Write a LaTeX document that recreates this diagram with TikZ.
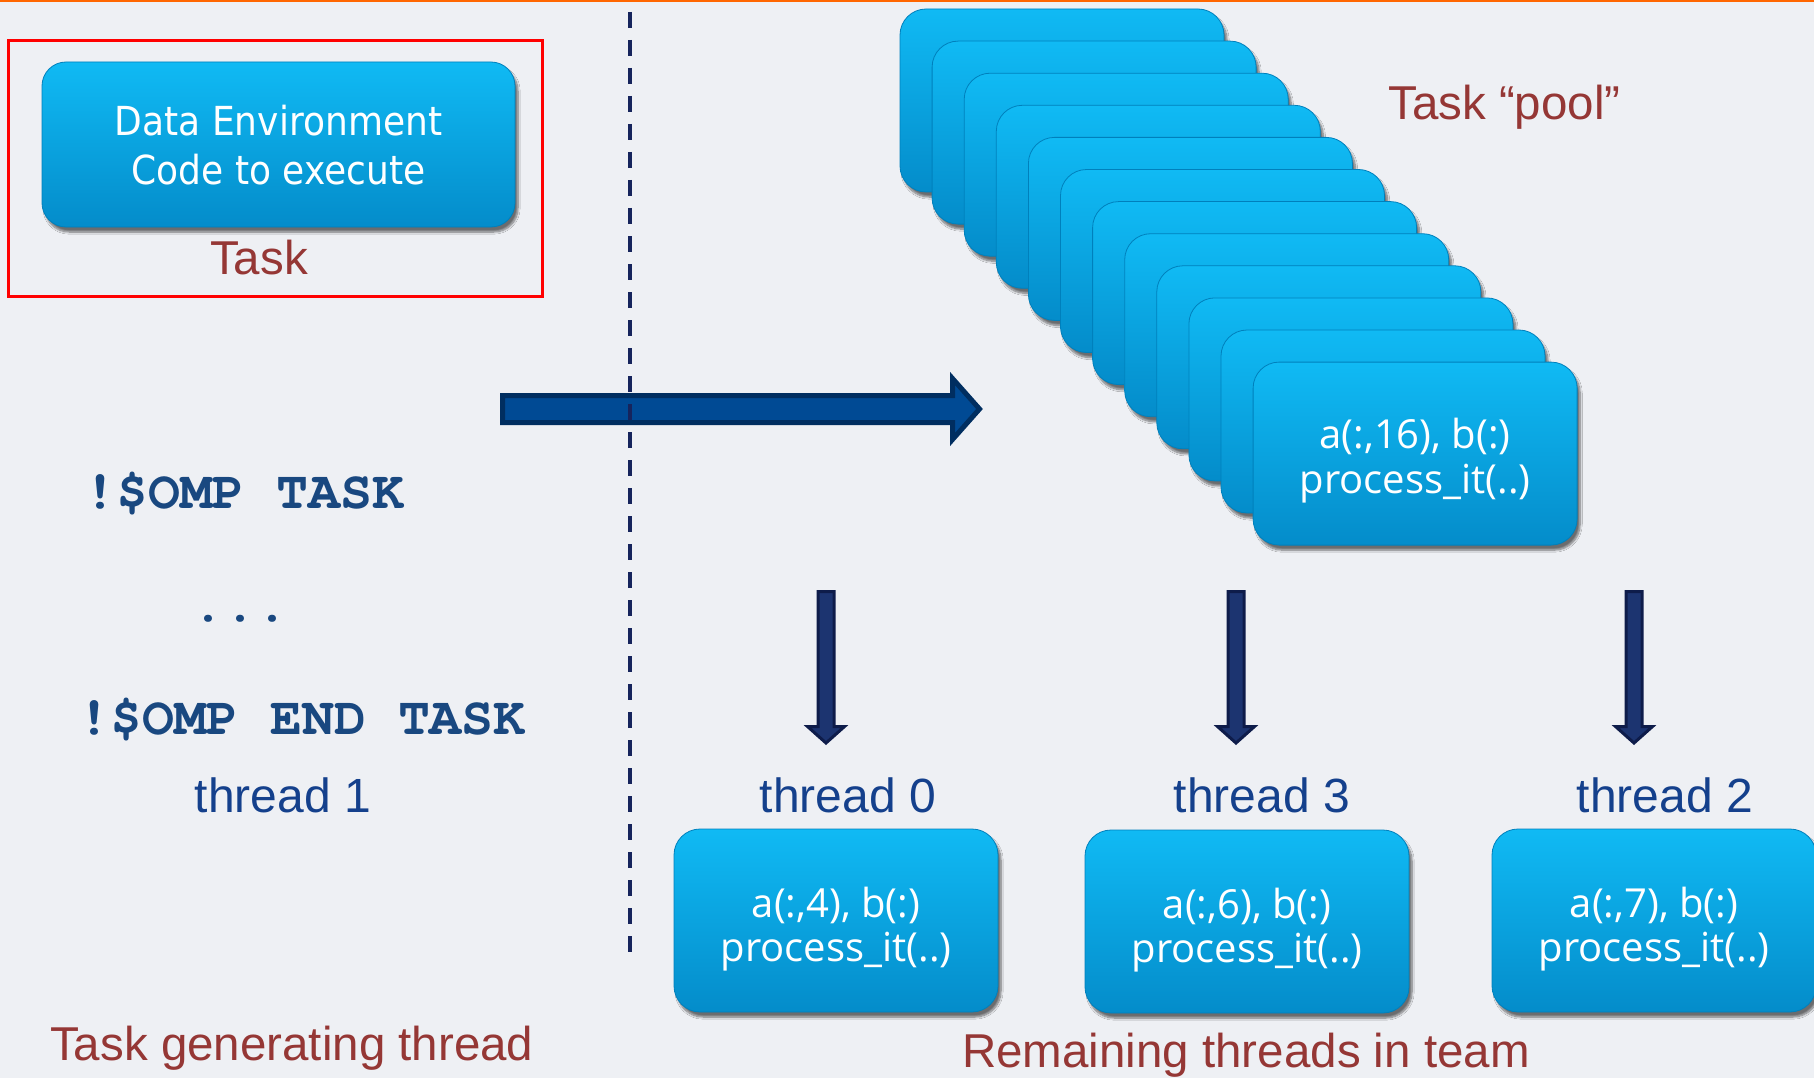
\documentclass[tikz,border=0pt]{standalone}
\usepackage{fontspec}
\setmainfont{Liberation Sans}
\newfontfamily\envfont[FakeStretch=0.9]{DejaVu Sans}
\newfontfamily\cellfont{Open Sans}
\newfontfamily\codefont{TeX Gyre Cursor}
\usetikzlibrary{shadows.blur}

\definecolor{bg}{RGB}{238,240,244}
\definecolor{orangeline}{RGB}{255,102,0}
\definecolor{redframe}{RGB}{255,0,0}
\definecolor{labelred}{RGB}{149,55,53}
\definecolor{threadblue}{RGB}{20,64,140}
\definecolor{codeblue}{RGB}{25,72,128}
\definecolor{celltop}{RGB}{16,186,244}
\definecolor{cellbot}{RGB}{4,140,202}
\definecolor{celledge}{RGB}{0,128,188}
\definecolor{bigfill}{RGB}{0,74,148}
\definecolor{bigedge}{RGB}{0,46,96}
\definecolor{downfill}{RGB}{28,52,112}
\definecolor{downedge}{RGB}{14,28,74}
\definecolor{dashnavy}{RGB}{22,36,92}

\begin{document}
\begin{tikzpicture}[x=1pt,y=-1pt,
  cell/.style={rounded corners=26pt, minimum width=324pt, minimum height=183pt,
    inner sep=0pt, top color=celltop, bottom color=cellbot, draw=celledge, line width=0.8pt,
    blur shadow={shadow xshift=3pt, shadow yshift=-5pt, shadow blur steps=8,
      shadow blur extra rounding=3pt, shadow opacity=55}},
  celltext/.style={font=\cellfont\fontsize{40}{43}\selectfont, text=white, inner sep=0pt, anchor=base},
  envtext/.style={font=\envfont\fontsize{40}{48}\selectfont, text=white, inner sep=0pt, anchor=base},
  redlabel/.style={font=\fontsize{47.5}{54}\selectfont, text=labelred, inner sep=0pt},
  threadlabel/.style={font=\fontsize{48}{54}\selectfont, text=threadblue, inner sep=0pt, anchor=base},
  codeline/.style={font=\codefont\bfseries\fontsize{53.3}{60}\selectfont, text=codeblue, inner sep=0pt, anchor=base west},
  blockdown/.pic={
    \filldraw[fill=downfill, draw=downedge, line width=3pt, line join=miter]
      (-8,0) -- (8,0) -- (8,135) -- (18.5,135) -- (0,151.5) -- (-18.5,135) -- (-8,135) -- cycle;
  }]

% page background and top rule
\fill[bg] (0,0) rectangle (1814,1078);
\useasboundingbox (0,0) rectangle (1814,1078);
\fill[orangeline] (0,0) rectangle (1814,2.5);

% the task: data environment plus code
\node[draw=redframe, line width=3pt, minimum width=534pt, minimum height=255pt, inner sep=0pt] (taskframe) at (275.7,168.5) {};
\node[cell, minimum width=473pt, minimum height=165pt, rounded corners=24pt] (taskbox) at (278.5,144.5) {};
\node[envtext] (envline) at (278.5,136) {Data Environment};
\node[envtext] (codeline) at (278.5,185) {Code to execute};
\node[redlabel, anchor=base] (tasklabel) at (259,274) {Task};

% task generating thread
\node[codeline] (omptask) at (84,508) {!\$OMP TASK};
\node[codeline] (ellipsis) at (192,621) {...};
\node[codeline] (ompend) at (78,734) {!\$OMP END TASK};
\node[threadlabel] (thr1) at (283,812) {thread 1};
\node[redlabel, anchor=base west] (genlabel) at (50,1060) {Task generating thread};

% arrow into the pool
\filldraw[fill=bigfill, draw=bigedge, line width=5pt, line join=miter]
  (502.5,395.5) -- (952.5,395.5) -- (952.5,378.5) -- (979.5,409) -- (952.5,439.5)
  -- (952.5,422.5) -- (502.5,422.5) -- cycle;

% separator between the two halves
\draw[dashnavy, line width=4pt, dash pattern=on 16pt off 12pt] (630,12) -- (630,952);

% the task pool
\foreach \i in {0,...,11}
  \node[cell] (pool\i) at ({1062+32.1*\i},{100.5+32.1*\i}) {};
\node[celltext] (pooltxta) at ([yshift=5pt]pool11.center) {a(:,16), b(:)};
\node[celltext] (pooltxtb) at ([yshift=-40pt]pool11.center) {process\_it(..)};
\node[redlabel, anchor=base west] (poollabel) at (1388,120) {Task “pool”};

% tasks taken by the other threads
\pic at (826,591.5) {blockdown};
\pic at (1236,591.5) {blockdown};
\pic at (1634,591.5) {blockdown};

\node[threadlabel] (thr0) at (848,812) {thread 0};
\node[threadlabel] (thr3) at (1262,812) {thread 3};
\node[threadlabel] (thr2) at (1665,812) {thread 2};

\node[cell] (run0) at (836,920.5) {};
\node[cell] (run3) at (1247,921.5) {};
\node[cell] (run2) at (1654,920.5) {};

\node[celltext] (run0a) at ([yshift=3pt]run0.center) {a(:,4), b(:)};
\node[celltext] (run0b) at ([yshift=-41pt]run0.center) {process\_it(..)};
\node[celltext] (run3a) at ([yshift=3pt]run3.center) {a(:,6), b(:)};
\node[celltext] (run3b) at ([yshift=-41pt]run3.center) {process\_it(..)};
\node[celltext] (run2a) at ([yshift=3pt]run2.center) {a(:,7), b(:)};
\node[celltext] (run2b) at ([yshift=-41pt]run2.center) {process\_it(..)};

\node[redlabel, anchor=base west] (teamlabel) at (962,1067) {Remaining threads in team};
\end{tikzpicture}
\end{document}
